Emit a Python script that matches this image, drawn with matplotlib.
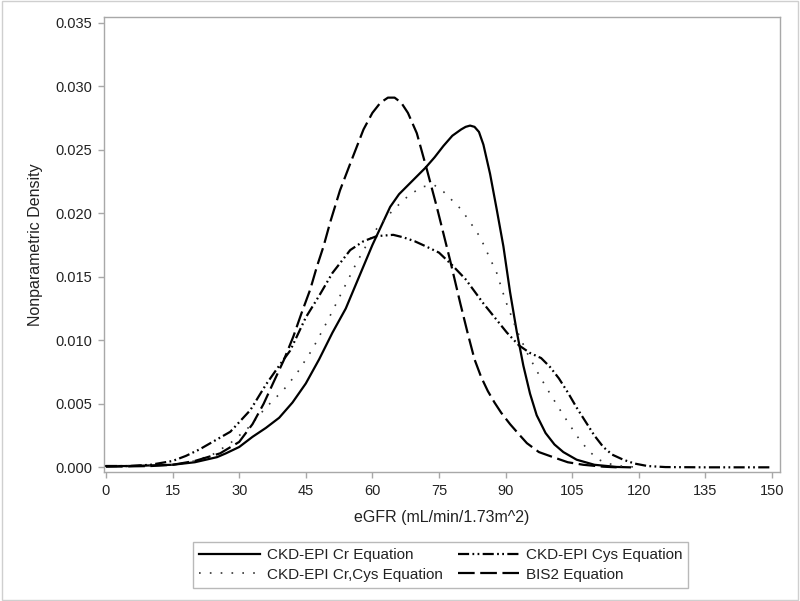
import matplotlib
matplotlib.use("Agg")
import matplotlib.pyplot as plt
from matplotlib.patches import Rectangle

plt.rcParams['font.family'] = ['Liberation Sans', 'DejaVu Sans']

# ---- data ----
cr_x = [0, 5, 10, 15, 20, 25, 27, 30, 33, 36, 39, 42, 45, 48, 51, 54, 57, 60, 62, 64, 66, 68,
        70, 72, 74, 76, 78, 80, 81, 82, 83, 84, 85, 86.5, 88, 89.5, 91, 92.5, 94, 95.5, 97, 99,
        101, 103, 106, 110, 115, 118]
cr_y = [0.0001, 0.0001, 0.00015, 0.0002, 0.0004, 0.0008, 0.0011, 0.0016, 0.0024, 0.0031,
        0.0039, 0.0051, 0.0066, 0.0085, 0.0106, 0.0125, 0.0150, 0.0175, 0.0190, 0.0205,
        0.0215, 0.0222, 0.0229, 0.0236, 0.0244, 0.0253, 0.0261, 0.0266, 0.0268, 0.0269,
        0.0268, 0.0264, 0.0254, 0.0231, 0.0203, 0.0174, 0.0138, 0.0107, 0.0080, 0.0058,
        0.0041, 0.0027, 0.0018, 0.0012, 0.0006, 0.0002, 0.00003, 0.0]

crcys_x = [0, 10, 15, 20, 24, 28, 32, 36, 40, 43, 46.5, 50, 53, 56, 58, 61, 64, 66, 68.5,
           71.5, 74, 76, 78, 80, 82, 84.3, 86, 88, 90, 92.5, 95, 97.8, 100, 102.3, 104.5,
           106.8, 109, 111, 113, 116, 120]
crcys_y = [0.0001, 0.00015, 0.0002, 0.0005, 0.0010, 0.0019, 0.0031, 0.0047, 0.0061, 0.0074,
           0.0093, 0.0116, 0.0137, 0.0158, 0.0171, 0.0188, 0.0200, 0.0207, 0.0215, 0.0221,
           0.0222, 0.0217, 0.0210, 0.0203, 0.0193, 0.0181, 0.0168, 0.0153, 0.0131, 0.0108,
           0.0089, 0.0071, 0.0058, 0.0045, 0.0033, 0.0021, 0.0012, 0.0006, 0.0003, 0.0001, 0.0]

cys_x = [0, 5, 10, 15, 18, 21, 24, 28, 32.5, 36, 39, 41.5, 45, 48, 51, 55, 58, 61, 64.7, 67,
         69.5, 72, 75, 78, 81, 85, 88, 90.3, 93, 95.5, 98, 100, 102, 104, 106, 108, 110, 112,
         114, 116.5, 119, 122, 126, 135, 150]
cys_y = [0.0001, 0.0001, 0.0002, 0.0005, 0.0009, 0.0014, 0.0020, 0.0028, 0.0045, 0.0065,
         0.0080, 0.0092, 0.0118, 0.0135, 0.0153, 0.0171, 0.0178, 0.0182, 0.0183, 0.0181,
         0.0178, 0.0174, 0.0169, 0.0159, 0.0148, 0.0129, 0.0116, 0.0106, 0.0096, 0.0090,
         0.0086, 0.0079, 0.0070, 0.0059, 0.0047, 0.0036, 0.0025, 0.0016, 0.0010, 0.0006,
         0.0003, 0.0001, 0.00002, 0.0, 0.0]

bis_x = [0, 10, 15, 20, 25.7, 30, 33, 35.5, 37.6, 40, 42.2, 44, 46, 47.5, 49, 50.5, 52.7, 55,
         58, 60, 61.8, 63.5, 65, 66.5, 68, 70, 72.3, 74.5, 76, 77.5, 79.8, 81.5, 83, 84.5,
         86, 87.5, 89, 91, 93, 94.8, 97.5, 100.7, 104, 107.5, 112, 115]
bis_y = [0.00005, 0.0001, 0.0002, 0.0005, 0.0011, 0.0020, 0.0034, 0.0050, 0.0066, 0.0084,
         0.0103, 0.0121, 0.0140, 0.0158, 0.0174, 0.0193, 0.0218, 0.0239, 0.0266, 0.0279,
         0.0287, 0.0291, 0.0291, 0.0287, 0.0279, 0.0263, 0.0234, 0.0205, 0.0184, 0.0163,
         0.0129, 0.0105, 0.0085, 0.0071, 0.0060, 0.0051, 0.0043, 0.0034, 0.0026, 0.0019,
         0.0012, 0.0008, 0.0004, 0.0002, 0.00005, 0.0]

labels = ["CKD-EPI Cr Equation", "CKD-EPI Cr,Cys Equation",
          "CKD-EPI Cys Equation", "BIS2 Equation"]
x_ticks = [0, 15, 30, 45, 60, 75, 90, 105, 120, 135, 150]
y_ticks = [0.000, 0.005, 0.010, 0.015, 0.020, 0.025, 0.030, 0.035]

# ---- figure ----
fig = plt.figure(figsize=(8, 6.01), dpi=100)
ax = fig.add_axes([0.13, 0.2146, 0.845, 0.7576])

h1, = ax.plot(cr_x, cr_y, color='black', lw=1.6, linestyle='-')
h2, = ax.plot(crcys_x, crcys_y, color='#333333', lw=1.2, linestyle=(0, (1, 5.5)))
h3, = ax.plot(cys_x, cys_y, color='black', lw=1.6,
              linestyle=(0, (5, 1.5, 0.8, 1.5, 0.8, 1.5)))
h4, = ax.plot(bis_x, bis_y, color='black', lw=1.6, linestyle=(0, (7.5, 2.5)))

ax.set_xlim(-0.45, 151.8)
ax.set_ylim(-0.00037, 0.03547)
ax.set_xticks(x_ticks)
ax.set_xticklabels([str(v) for v in x_ticks])
ax.set_yticks(y_ticks)
ax.set_yticklabels([f"{v:.3f}" for v in y_ticks])

spine_col = '#A8A8A8'
for s in ax.spines.values():
    s.set_color(spine_col)
    s.set_linewidth(1.0)
ax.tick_params(axis='both', colors=spine_col, length=4.5, width=1.0,
               labelcolor='#222222', labelsize=10.5, pad=4)

ax.set_xlabel("eGFR (mL/min/1.73m^2)", fontsize=11.5, color='#222222', labelpad=9)
ax.set_ylabel("Nonparametric Density", fontsize=11.5, color='#222222', labelpad=9)

leg = fig.legend([h1, h2, h3, h4], labels, ncol=2, loc='center',
                 bbox_to_anchor=(0.5506, 0.0599), fontsize=11, frameon=True,
                 fancybox=False, edgecolor='#A8A8A8', handlelength=4.0,
                 handletextpad=0.45, columnspacing=1.0, labelspacing=0.35,
                 borderpad=0.4)
leg.get_frame().set_linewidth(1.0)
for t in leg.get_texts():
    t.set_color('#222222')

fig.patches.append(Rectangle((0.002, 0.002), 0.996, 0.996, transform=fig.transFigure,
                             fill=False, edgecolor='#CFCFCF', linewidth=1.0))

fig.savefig("out.png", dpi=100)
